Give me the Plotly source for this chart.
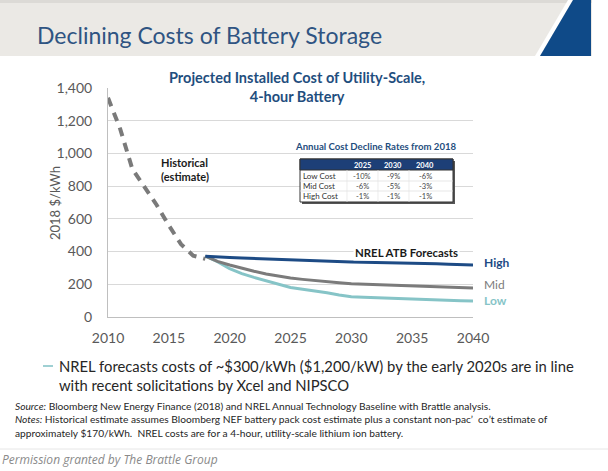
import plotly.graph_objects as go

# ---------------- data ----------------
hist_years = [2010, 2011, 2012, 2013, 2014, 2015, 2016, 2017, 2018]
hist_cost = [1340, 1150, 905, 795, 685, 560, 445, 375, 355]

fc_years = [2018, 2019, 2020, 2021, 2022, 2023, 2024, 2025, 2026, 2027, 2028, 2029, 2030,
            2031, 2032, 2033, 2034, 2035, 2036, 2037, 2038, 2039, 2040]
high_cost = [372, 370, 364, 360, 357, 354, 352, 350, 347, 344, 341, 339, 337,
             335, 334, 332, 331, 330, 328, 326, 323, 321, 318]
mid_cost = [372, 340, 318, 298, 280, 263, 249, 238, 230, 222, 215, 209, 203,
            200, 198, 195, 193, 191, 188, 185, 182, 179, 177]
low_cost = [372, 338, 295, 265, 242, 222, 200, 180, 170, 160, 148, 135, 124,
            120, 117, 114, 112, 110, 107, 104, 102, 100, 98]

x_ticks = [2010, 2015, 2020, 2025, 2030, 2035, 2040]
y_ticks = [0, 200, 400, 600, 800, 1000, 1200, 1400]

table_cols = ["2025", "2030", "2040"]
table_rows = ["Low Cost", "Mid Cost", "High Cost"]
table_vals = [["-10%", "-9%", "-6%"],
              ["-6%", "-5%", "-3%"],
              ["-1%", "-1%", "-1%"]]

# ---------------- layout helpers (pixel -> paper) ----------------
W, H = 608, 471
L, R, T, B = 108, 473, 88, 317


def px(x):
    return (x - L) / (R - L)


def py(y):
    return (B - y) / (B - T)


NAVY = "#1d4b85"
GRAY = "#7b7b7b"
TEAL = "#86c4c7"
FONT = "Lato"

fig = go.Figure()
fig.add_trace(go.Scatter(x=hist_years, y=hist_cost, mode="lines",
                         line=dict(color="#7a7a7a", width=4, dash="9px,7px"),
                         hoverinfo="skip", showlegend=False))
fig.add_trace(go.Scatter(x=fc_years, y=low_cost, mode="lines",
                         line=dict(color=TEAL, width=3), showlegend=False))
fig.add_trace(go.Scatter(x=fc_years, y=mid_cost, mode="lines",
                         line=dict(color=GRAY, width=3), showlegend=False))
fig.add_trace(go.Scatter(x=fc_years, y=high_cost, mode="lines",
                         line=dict(color=NAVY, width=3), showlegend=False))

shapes = []
ann = []

# banner
shapes.append(dict(type="rect", xref="paper", yref="paper", x0=px(0), x1=px(592),
                   y0=py(0), y1=py(56), fillcolor="#ebe9e5", line_width=0, layer="below"))
shapes.append(dict(type="rect", xref="paper", yref="paper", x0=px(0), x1=px(592),
                   y0=py(0), y1=py(3), fillcolor="#dcdad6", line_width=0, layer="below"))
shapes.append(dict(type="path", xref="paper", yref="paper",
                   path=f"M {px(535)} {py(56)} L {px(568)} {py(0)} L {px(573)} {py(0)} L {px(540)} {py(56)} Z",
                   fillcolor="white", line_width=0, layer="below"))
shapes.append(dict(type="path", xref="paper", yref="paper",
                   path=f"M {px(540)} {py(56)} L {px(573)} {py(0)} L {px(591)} {py(0)} L {px(591)} {py(56)} Z",
                   fillcolor="#0f4a88", line_width=0, layer="below"))
ann.append(dict(x=px(35), y=py(35), xref="paper", yref="paper", xanchor="left", yanchor="middle",
                text="Declining Costs of Battery Storage", showarrow=False,
                font=dict(family="Lato", size=23, color="#2f5482")))

# chart title (white background covers top gridline)
ann.append(dict(x=px(297), y=py(87), xref="paper", yref="paper", xanchor="center", yanchor="middle",
                text="<b>Projected Installed Cost of Utility-Scale,<br>4-hour Battery</b>",
                showarrow=False, bgcolor="white", borderpad=5,
                font=dict(family=FONT, size=14.5, color="#1f4e7e")))

# y axis title
ann.append(dict(x=px(45), y=py(203), xref="paper", yref="paper", textangle=-90,
                text="2018 $/kWh", showarrow=False,
                font=dict(family=FONT, size=13, color="#595959")))

# annotations inside chart
ann.append(dict(x=px(159), y=py(169), xref="paper", yref="paper", xanchor="left", yanchor="middle",
                align="left", text="<b>Historical<br>(estimate)</b>", showarrow=False,
                font=dict(family=FONT, size=11, color="#1a1a1a")))
ann.append(dict(x=px(406), y=py(252), xref="paper", yref="paper", xanchor="center", yanchor="middle",
                text="<b>NREL ATB Forecasts</b>", showarrow=False, bgcolor="white", borderpad=1,
                font=dict(family=FONT, size=11.4, color="#1a1a1a")))
for lbl, yy, col in [("High", 262, NAVY), ("Mid", 284, GRAY), ("Low", 300, TEAL)]:
    ann.append(dict(x=px(482), y=py(yy), xref="paper", yref="paper", xanchor="left", yanchor="middle",
                    text=f"<b>{lbl}</b>" if lbl != "Mid" else lbl, showarrow=False,
                    font=dict(family=FONT, size=12, color=col)))

# inset table
ann.append(dict(x=px(376), y=py(146), xref="paper", yref="paper", xanchor="center", yanchor="middle",
                text="<b>Annual Cost Decline Rates from 2018</b>", showarrow=False,
                font=dict(family=FONT, size=9.6, color="#1f4e7e")))
tx0, tx1, ty0, ty1, th = 300, 453, 159, 202, 170
shapes.append(dict(type="rect", xref="paper", yref="paper", x0=px(tx0 + 2), x1=px(tx1 + 2),
                   y0=py(ty0 + 2), y1=py(ty1 + 2), fillcolor="#555555", line_width=0))
shapes.append(dict(type="rect", xref="paper", yref="paper", x0=px(tx0), x1=px(tx1),
                   y0=py(ty0), y1=py(ty1), fillcolor="white", line=dict(color="#333333", width=1)))
shapes.append(dict(type="rect", xref="paper", yref="paper", x0=px(tx0), x1=px(tx1),
                   y0=py(ty0), y1=py(th), fillcolor="#1d3f77", line=dict(color="#333333", width=1)))
col_x = [362, 393, 425]
row_y = [176, 186, 196]
for yy in [181, 191]:
    shapes.append(dict(type="line", xref="paper", yref="paper", x0=px(tx0), x1=px(tx1),
                       y0=py(yy), y1=py(yy), line=dict(color="#dddddd", width=0.7)))
for xx in [347, 378, 409]:
    shapes.append(dict(type="line", xref="paper", yref="paper", x0=px(xx), x1=px(xx),
                       y0=py(th), y1=py(ty1), line=dict(color="#e4e4e4", width=0.7)))
for c, xx in zip(table_cols, col_x):
    ann.append(dict(x=px(xx), y=py(165), xref="paper", yref="paper", xanchor="center", yanchor="middle",
                    text=f"<b>{c}</b>", showarrow=False, font=dict(family=FONT, size=7.5, color="white")))
for r, yy, vals in zip(table_rows, row_y, table_vals):
    ann.append(dict(x=px(tx0 + 1), y=py(yy), xref="paper", yref="paper", xanchor="left", yanchor="middle",
                    text=r, showarrow=False, font=dict(family=FONT, size=8, color="#333333")))
    for v, xx in zip(vals, col_x):
        ann.append(dict(x=px(xx), y=py(yy), xref="paper", yref="paper", xanchor="center", yanchor="middle",
                        text=v, showarrow=False, font=dict(family=FONT, size=7.5, color="#444444")))

# footer bullet
shapes.append(dict(type="line", xref="paper", yref="paper", x0=px(43), x1=px(53), y0=py(366), y1=py(366),
                   line=dict(color="#7fc1c4", width=1.5)))
ann.append(dict(x=px(57), y=py(375), xref="paper", yref="paper", xanchor="left", yanchor="middle",
                align="left", showarrow=False,
                text="NREL forecasts costs of ~$300/kWh ($1,200/kW) by the early 2020s are in line<br>"
                     "with recent solicitations by Xcel and NIPSCO",
                font=dict(family=FONT, size=14.8, color="#262626")))
ann.append(dict(x=px(13), y=py(419), xref="paper", yref="paper", xanchor="left", yanchor="middle",
                align="left", showarrow=False,
                text="<i>Source:</i> Bloomberg New Energy Finance (2018) and NREL Annual Technology Baseline with Brattle analysis.<br>"
                     "<i>Notes:</i> Historical estimate assumes Bloomberg NEF battery pack cost estimate plus a constant non-pac\u2019  co\u02bct estimate of<br>"
                     "approximately $170/kWh.  NREL costs are for a 4-hour, utility-scale lithium ion battery.",
                font=dict(family=FONT, size=10.2, color="#262626")))
shapes.append(dict(type="line", xref="paper", yref="paper", x0=px(0), x1=px(608), y0=py(449), y1=py(449),
                   line=dict(color="#e6e6e6", width=1)))
ann.append(dict(x=px(0), y=py(459), xref="paper", yref="paper", xanchor="left", yanchor="middle",
                showarrow=False, text="<i>Permission granted by The Brattle Group</i>",
                font=dict(family="Open Sans", size=12, color="#8a8a8a")))

fig.update_layout(
    width=W, height=H,
    margin=dict(l=L, r=W - R, t=T, b=H - B),
    paper_bgcolor="white", plot_bgcolor="white",
    font=dict(family=FONT),
    shapes=shapes, annotations=ann,
    xaxis=dict(range=[2010, 2040], tickvals=x_ticks, showgrid=False, zeroline=False,
               showline=True, linecolor="#bfbfbf", linewidth=1, ticks="",
               ticklabelstandoff=8, tickfont=dict(family=FONT, size=14, color="#595959")),
    yaxis=dict(range=[0, 1400], tickvals=y_ticks, tickformat=",", showgrid=True,
               gridcolor="#d9d9d9", gridwidth=1, zeroline=False,
               showline=True, linecolor="#bfbfbf", linewidth=1, ticks="",
               ticklabelstandoff=12, tickfont=dict(family=FONT, size=14, color="#595959")),
)

fig.write_html("out.html", config={"displayModeBar": False},
               post_script="document.body.style.margin='0px';")
